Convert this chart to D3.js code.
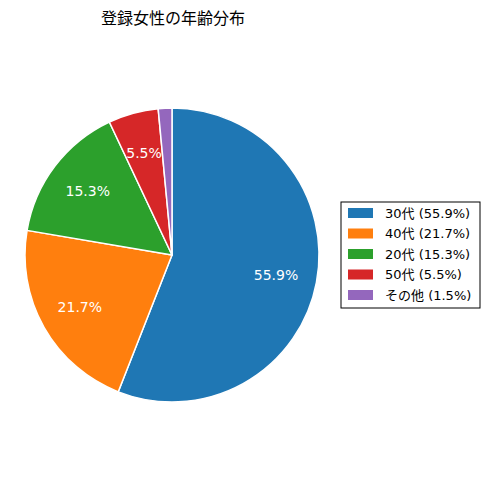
<!DOCTYPE html>
<html>
<head>
<meta charset="utf-8">
<script src="https://cdn.jsdelivr.net/npm/d3@7"></script>
<style>
  body { margin: 0; background: #fff; }
  text { font-family: "DejaVu Sans", "Noto Sans CJK JP", sans-serif; }
</style>
</head>
<body>
<div id="chart"></div>
<script>
// データ
const categories = ["30代", "40代", "20代", "50代", "その他"];
const shares = [55.9, 21.7, 15.3, 5.5, 1.5];
const colors = ["#1f77b4", "#ff7f0e", "#2ca02c", "#d62728", "#9467bd"];
const title = "登録女性の年齢分布";

const width = 488, height = 490;
const cx = 172, cy = 255, radius = 147;

const svg = d3.select("#chart").append("svg")
  .attr("width", width)
  .attr("height", height);

svg.append("text")
  .attr("x", cx + 1)
  .attr("y", 24)
  .attr("text-anchor", "middle")
  .style("font-family", "'Noto Sans CJK JP', sans-serif")
  .style("font-size", "16px")
  .text(title);

// 時計回り、12時から
const pie = d3.pie().sort(null).value(d => d)
  .startAngle(0).endAngle(2 * Math.PI);
const arcs = pie(shares);

const arc = d3.arc().innerRadius(0).outerRadius(radius);
const labelArc = d3.arc().innerRadius(radius * 0.72).outerRadius(radius * 0.72);

const g = svg.append("g").attr("transform", `translate(${cx},${cy})`);

g.selectAll("path")
  .data(arcs)
  .join("path")
  .attr("d", arc)
  .attr("fill", (d, i) => colors[i])
  .attr("stroke", "#fff")
  .attr("stroke-width", 1.5)
  .attr("stroke-linejoin", "round");

// 小さすぎる扇形にはラベルを付けない
g.selectAll("text.pct")
  .data(arcs.filter(d => d.data >= 3))
  .join("text")
  .attr("class", "pct")
  .attr("transform", d => `translate(${labelArc.centroid(d)})`)
  .attr("text-anchor", "middle")
  .attr("dominant-baseline", "central")
  .attr("fill", "#fff")
  .style("font-size", "14px")
  .text(d => d.data.toFixed(1) + "%");

// 凡例
const legend = svg.append("g").attr("transform", "translate(341,202)");
legend.append("rect")
  .attr("width", 139)
  .attr("height", 106)
  .attr("fill", "#fff")
  .attr("stroke", "#000")
  .attr("stroke-width", 1);

const rowY = d3.scaleLinear().domain([0, 4]).range([11, 93]);

const items = legend.selectAll("g.item")
  .data(categories)
  .join("g")
  .attr("class", "item")
  .attr("transform", (d, i) => `translate(0,${rowY(i)})`);

items.append("rect")
  .attr("x", 7)
  .attr("y", -5)
  .attr("width", 25)
  .attr("height", 10)
  .attr("fill", (d, i) => colors[i]);

items.append("text")
  .attr("x", 44)
  .attr("y", 0)
  .attr("dominant-baseline", "central")
  .style("font-size", "13px")
  .text((d, i) => `${d} (${shares[i].toFixed(1)}%)`);
</script>
</body>
</html>
